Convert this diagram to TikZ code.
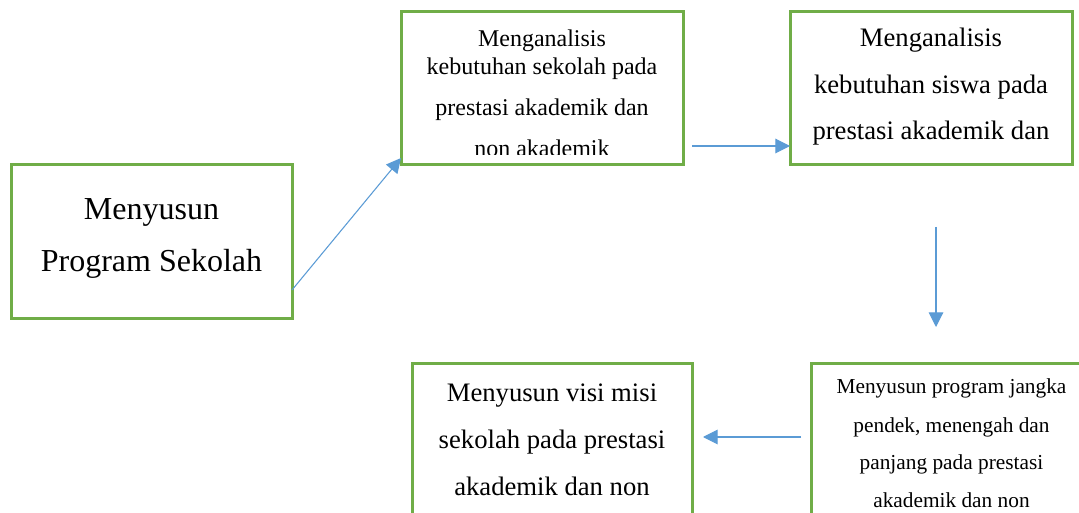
\documentclass[tikz,border=0pt]{standalone}
\usepackage{fontspec}
\setmainfont{Liberation Serif}
\usepackage{tikz}
\usetikzlibrary{arrows.meta}
\usetikzlibrary{calc,fit}

\definecolor{kotakhijau}{HTML}{70AD47}
\definecolor{panahbiru}{HTML}{5B9BD5}

\tikzset{
    kotak/.style={draw=kotakhijau, line width=2.25pt, inner sep=0pt, outer sep=0pt},
    isi/.style={align=center, anchor=base, inner sep=0pt},
    alur/.style={panahbiru, line width=0.8pt, -{Triangle[length=11pt,width=11pt]}}
}

\begin{document}
\begin{tikzpicture}[x=0.75pt, y=-0.75pt]

    \useasboundingbox (0,0) rectangle (1079,513);
    \clip (0,0) rectangle (1079,513);

    % Kotak
    \node[kotak, fit={(11,165) (292,319)}] (program) {};
    \node[kotak, fit={(401,12) (683,165)}] (kebsekolah) {};
    \node[kotak, fit={(790,12) (1072,165)}] (kebsiswa) {};
    \node[kotak, fit={(811,364) (1092,530)}] (jangka) {};
    \node[kotak, fit={(412,364) (692,530)}] (visi) {};

    % Teks (base = baris terakhir)
    \node[isi, font=\fontsize{24}{39}\selectfont] (programtxt) at (151.5,272)
      {Menyusun\\Program Sekolah};
    \begin{scope}
      \clip (kebsekolah.north west) rectangle ($(kebsekolah.south east)+(0,-10)$);
      \node[isi, font=\fontsize{18}{30.75}\selectfont] (kebsekolahtxt) at (542,157)
        {Menganalisis\\[-9.75pt]kebutuhan sekolah pada\\prestasi akademik dan\\non akademik};
    \end{scope}
    \node[isi, font=\fontsize{20}{35}\selectfont] (kebsiswatxt) at (931,140)
      {Menganalisis\\kebutuhan siswa pada\\prestasi akademik dan};
    \node[isi, font=\fontsize{16}{28.5}\selectfont] (jangkatxt) at (951.5,508)
      {Menyusun program jangka\\pendek, menengah dan\\panjang pada prestasi\\akademik dan non};
    \node[isi, font=\fontsize{20}{35}\selectfont] (visitxt) at (552,495)
      {Menyusun visi misi\\sekolah pada prestasi\\akademik dan non};

    % Panah
    \draw[alur] ($(program.south east)+(0,-29)$) -- ($(kebsekolah.south west)+(0,-7)$);
    \draw[alur] ($(kebsekolah.south east)+(9,-19)$) -- ($(kebsiswa.south west)+(0,-19)$);
    \draw[alur] ($(kebsiswa.south)+(5,62)$) -- ($(jangka.north west)+(125,-37)$);
    \draw[alur] ($(jangka.north west)+(-10,73)$) -- ($(visi.north east)+(11,73)$);
\end{tikzpicture}
\end{document}
